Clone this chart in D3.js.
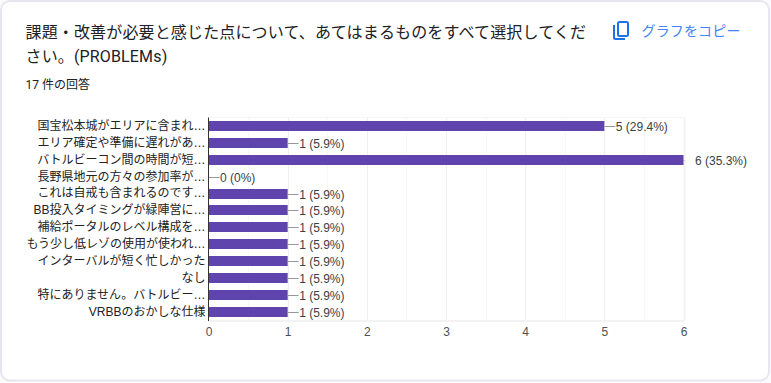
<!DOCTYPE html>
<html lang="ja">
<head>
<meta charset="utf-8">
<script src="https://cdn.jsdelivr.net/npm/d3@7"></script>
<style>
  html, body { margin: 0; padding: 0; background: #fbfbfd; }
  svg { display: block; font-family: Roboto, "Noto Sans CJK JP", sans-serif; }
</style>
</head>
<body>
<div id="chart"></div>
<script>
const titleLines = [
  "課題・改善が必要と感じた点について、あてはまるものをすべて選択してくだ",
  "さい。(PROBLEMs)",
];
const responseCount = "17 件の回答";
const copyLabel = "グラフをコピー";

const categories = [
  "国宝松本城がエリアに含まれ…",
  "エリア確定や準備に遅れがあ…",
  "バトルビーコン間の時間が短…",
  "長野県地元の方々の参加率が…",
  "これは自戒も含まれるのです…",
  "BB投入タイミングが緑陣営に…",
  "補給ポータルのレベル構成を…",
  "もう少し低レゾの使用が使われ…",
  "インターバルが短く忙しかった",
  "なし",
  "特にありません。バトルビー…",
  "VRBBのおかしな仕様",
];
const counts = [5, 1, 6, 0, 1, 1, 1, 1, 1, 1, 1, 1];
const percents = ["29.4%", "5.9%", "35.3%", "0%", "5.9%", "5.9%", "5.9%", "5.9%", "5.9%", "5.9%", "5.9%", "5.9%"];
const xTicks = [0, 1, 2, 3, 4, 5, 6];
const xMinorTicks = [0.5, 1.5, 2.5, 3.5, 4.5, 5.5];

const width = 771;
const height = 383;
const plot = { left: 208.5, right: 683.5, top: 117.5, bottom: 320.5 };
const chartFont = '"Liberation Sans", "Noto Sans CJK JP", sans-serif';

const svg = d3
  .select("#chart")
  .append("svg")
  .attr("width", width)
  .attr("height", height);

// Carte blanche
svg
  .append("rect")
  .attr("x", 1)
  .attr("y", 1)
  .attr("width", 768)
  .attr("height", 379.5)
  .attr("rx", 9)
  .attr("fill", "#fff")
  .attr("stroke", "#e6e6f0")
  .attr("stroke-width", 2);

// Titre
svg
  .append("g")
  .selectAll("text")
  .data(titleLines)
  .enter()
  .append("text")
  .attr("x", 25.5)
  .attr("y", (d, i) => 38 + i * 24)
  .attr("fill", "#202124")
  .style("font-size", "16px")
  .style("letter-spacing", "0.15px")
  .text((d) => d);

svg
  .append("text")
  .attr("x", 25.5)
  .attr("y", 89)
  .attr("fill", "#202124")
  .style("font-size", "12px")
  .text(responseCount);

// Bouton copier
const copyIcon = svg.append("g").attr("fill", "none").attr("stroke", "#1a73e8").attr("stroke-width", 2);
copyIcon.append("rect").attr("x", 618).attr("y", 22).attr("width", 10).attr("height", 14).attr("rx", 1.5);
copyIcon.append("path").attr("d", "M614 25V37.5a1.5 1.5 0 0 0 1.5 1.5H625");

svg
  .append("text")
  .attr("x", 641.5)
  .attr("y", 36)
  .attr("fill", "#4285f4")
  .style("font-size", "14px")
  .style("letter-spacing", "0.15px")
  .text(copyLabel);

const xScale = d3.scaleLinear().domain([0, 6]).range([plot.left, plot.right]);
const yScale = d3
  .scaleBand()
  .domain(categories)
  .range([plot.top, plot.bottom - 0.1])
  .paddingInner(0.408)
  .paddingOuter(0.207);

// Grille
svg
  .append("g")
  .selectAll("line")
  .data(xMinorTicks)
  .enter()
  .append("line")
  .attr("x1", (d) => Math.round(xScale(d)) + 0.5)
  .attr("x2", (d) => Math.round(xScale(d)) + 0.5)
  .attr("y1", plot.top)
  .attr("y2", plot.bottom)
  .attr("stroke", "#f8f8f8");

svg
  .append("g")
  .selectAll("line")
  .data(xTicks.slice(1))
  .enter()
  .append("line")
  .attr("x1", (d) => Math.round(xScale(d)) + 0.5)
  .attr("x2", (d) => Math.round(xScale(d)) + 0.5)
  .attr("y1", plot.top)
  .attr("y2", plot.bottom)
  .attr("stroke", (d) => (d === 6 ? "#f2f2f2" : "#f0f0f0"))
  .attr("stroke-width", (d) => (d === 6 ? 2 : 1));

svg
  .append("line")
  .attr("x1", plot.left)
  .attr("x2", plot.right + 1)
  .attr("y1", plot.top)
  .attr("y2", plot.top)
  .attr("stroke", "#f5f5f5");

svg
  .append("line")
  .attr("x1", plot.left)
  .attr("x2", plot.right + 1)
  .attr("y1", plot.bottom + 0.5)
  .attr("y2", plot.bottom + 0.5)
  .attr("stroke", "#f2f2f2")
  .attr("stroke-width", 2);

// Barres
svg
  .append("g")
  .selectAll("rect")
  .data(categories)
  .enter()
  .append("rect")
  .attr("x", plot.left)
  .attr("y", (d) => Math.round(yScale(d)))
  .attr("width", (d, i) => xScale(counts[i]) - plot.left)
  .attr("height", 10)
  .attr("fill", "#5e44ac");

// Traits de rappel
svg
  .append("g")
  .selectAll("line")
  .data(categories)
  .enter()
  .append("line")
  .attr("x1", (d, i) => xScale(counts[i]))
  .attr("x2", (d, i) => Math.min(xScale(counts[i]) + 11, plot.right + 1))
  .attr("y1", (d) => Math.round(yScale(d)) + 5.5)
  .attr("y2", (d) => Math.round(yScale(d)) + 5.5)
  .attr("stroke", "#999999");

// Valeurs
svg
  .append("g")
  .selectAll("text")
  .data(categories)
  .enter()
  .append("text")
  .attr("x", (d, i) => xScale(counts[i]) + 11.5)
  .attr("y", (d) => Math.round(yScale(d)) + 9.5)
  .attr("fill", "#3c4043")
  .style("font-family", chartFont)
  .style("font-size", "12px")
  .text((d, i) => `${counts[i]} (${percents[i]})`);

// Axe Y
const yAxis = svg
  .append("g")
  .attr("transform", `translate(${plot.left},0)`)
  .call(d3.axisLeft(yScale).tickSize(0).tickPadding(3));
yAxis.select(".domain").attr("stroke", "#333333").attr("d", `M0,${plot.top}V${plot.bottom + 0.5}`);
yAxis
  .selectAll("text")
  .attr("fill", "#222222")
  .style("font-family", chartFont)
  .style("font-size", "12px");

// Axe X
const xAxis = svg
  .append("g")
  .attr("transform", `translate(0,${plot.bottom})`)
  .call(d3.axisBottom(xScale).tickValues(xTicks).tickSize(0).tickPadding(7).tickFormat(d3.format("d")));
xAxis.select(".domain").remove();
xAxis
  .selectAll("text")
  .attr("fill", "#4d5156")
  .style("font-family", chartFont)
  .style("font-size", "12px");
</script>
</body>
</html>
